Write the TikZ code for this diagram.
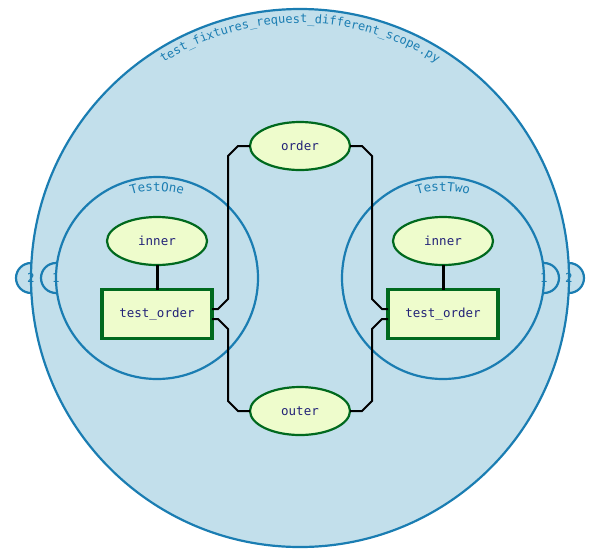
\documentclass[tikz,border=0pt]{standalone}
\usepackage{fontspec}
\setmonofont{DejaVu Sans Mono}
\usetikzlibrary{shapes.geometric,decorations.text,calc}
\definecolor{bgblue}{RGB}{194,223,235}
\definecolor{lineblue}{RGB}{26,125,178}
\definecolor{nodefill}{RGB}{238,252,204}
\definecolor{nodeline}{RGB}{0,105,30}
\definecolor{nodetext}{RGB}{35,35,120}
\newcommand{\labfont}{\ttfamily\fontsize{12.5}{14}\selectfont}
\newcommand{\titlefont}{\ttfamily\fontsize{12}{14}\selectfont}
\tikzset{
  scopecircle/.style={circle, draw=lineblue, fill=bgblue, line width=2.2pt, inner sep=0pt, outer sep=0pt},
  badge/.style={circle, draw=lineblue, fill=bgblue, line width=2.2pt, minimum size=30pt, inner sep=0pt},
  badgetext/.style={text=lineblue, font=\labfont, inner sep=0pt},
  fixture/.style={ellipse, draw=nodeline, fill=nodefill, line width=2.2pt, minimum width=100pt, minimum height=48pt, inner sep=0pt, outer sep=0pt, text=nodetext, font=\labfont},
  testbox/.style={rectangle, draw=nodeline, fill=nodefill, line width=3.5pt, minimum width=110pt, minimum height=49pt, inner sep=0pt, outer sep=0pt, text=nodetext, font=\labfont},
  link/.style={draw=black, line width=2pt},
  dep/.style={draw=black, line width=3pt},
}
\begin{document}
\begin{tikzpicture}[x=1pt,y=-1pt]
\useasboundingbox (0,0) rectangle (605,558);
% outer scope
\coordinate (fc) at (300,278);
\coordinate (fw) at (31,278);
\coordinate (fe) at (569,278);
\node[badge] (b2l) at (fw) {};
\node[badge] (b2r) at (fe) {};
\node[scopecircle, minimum size=538pt] (file) at (fc) {};
% class scopes
\coordinate (t1w) at (56,278);
\coordinate (t2e) at (544,278);
\node[badge] (b1l) at (t1w) {};
\node[badge] (b1r) at (t2e) {};
\node[scopecircle, minimum size=202pt] (testone) at (157,278) {};
\node[scopecircle, minimum size=202pt] (testtwo) at (443,278) {};
% badge numbers
\node[badgetext] at (b2l) {2};
\node[badgetext] at (b2r) {2};
\node[badgetext] at (b1l) {1};
\node[badgetext] at (b1r) {1};
% titles
\path[decorate, decoration={text along path, text align=center,
  text={|\titlefont\color{lineblue}|test{\_}fixtures{\_}request{\_}different{\_}scope.py}}]
  ($(file.center)+(-125:255)$) arc[start angle=-125, end angle=-55, radius=255];
\path[decorate, decoration={text along path, text align=center,
  text={|\labfont\color{lineblue}|TestOne}}]
  ($(testone.center)+(-130:87)$) arc[start angle=-130, end angle=-50, radius=87];
\path[decorate, decoration={text along path, text align=center,
  text={|\labfont\color{lineblue}|TestTwo}}]
  ($(testtwo.center)+(-130:87)$) arc[start angle=-130, end angle=-50, radius=87];
% nodes
\node[fixture] (order) at (300,146) {order};
\node[fixture] (outer) at (300,411) {outer};
\node[fixture] (inner1) at (157,241) {inner};
\node[fixture] (inner2) at (443,241) {inner};
\node[testbox] (to1) at (157,314) {test\_order};
\node[testbox] (to2) at (443,314) {test\_order};
% connectors
\draw[dep] (inner1) -- (to1);
\draw[dep] (inner2) -- (to2);
\draw[link] ($(to1.east)+(0,-5)$) -- ($(to1.east)+(6,-5)$) -- ($(to1.east)+(16,-15)$) -- ($(order.west)+(-22,10)$) -- ($(order.west)+(-12,0)$) -- (order.west);
\draw[link] ($(to1.east)+(0,5)$) -- ($(to1.east)+(6,5)$) -- ($(to1.east)+(16,15)$) -- ($(outer.west)+(-22,-10)$) -- ($(outer.west)+(-12,0)$) -- (outer.west);
\draw[link] ($(to2.west)+(0,-5)$) -- ($(to2.west)+(-6,-5)$) -- ($(to2.west)+(-16,-15)$) -- ($(order.east)+(22,10)$) -- ($(order.east)+(12,0)$) -- (order.east);
\draw[link] ($(to2.west)+(0,5)$) -- ($(to2.west)+(-6,5)$) -- ($(to2.west)+(-16,15)$) -- ($(outer.east)+(22,-10)$) -- ($(outer.east)+(12,0)$) -- (outer.east);
\end{tikzpicture}
\end{document}
